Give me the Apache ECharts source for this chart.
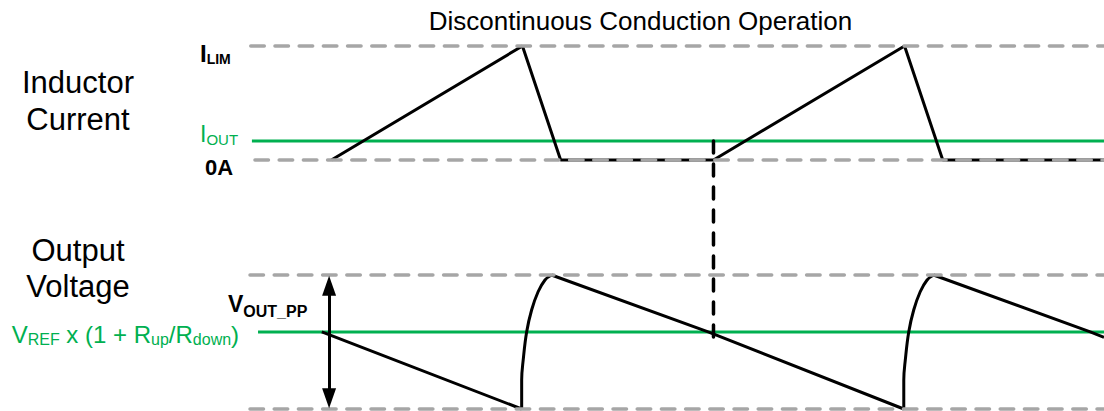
<!DOCTYPE html>
<html>
<head>
<meta charset="utf-8">
<script src="https://cdn.jsdelivr.net/npm/echarts@6/dist/echarts.min.js"></script>
<style>
html,body{margin:0;padding:0;background:#fff;}
#chart{width:1104px;height:411px;}
</style>
</head>
<body>
<div id="chart"></div>
<script>
// ---------------- data ----------------
// time axis in arbitrary units: one switching period = 10
const timeMin = -2.13;
const timeMax = 20.22;

// inductor current, normalised: 0 = 0A, 1 = I_LIM
const currentZero = 0;
const currentLimit = 1;
const currentOut = 0.167;
const inductorTime    = [0, 5, 6, 10, 15, 16, 20.22];
const inductorCurrent = [0, 1, 0, 0,  1,  0,  0];

// output voltage, normalised: 0 = valley, 1 = peak (V_OUT_PP span)
const voltageLow = 0;
const voltageHigh = 1;
const voltageRef = 0.575;
// straight discharge ramps (null = break)
const rampTime    = [-0.25, 4.98, null, 5.76, 9.86, 14.98, null, 15.76, 19.86, 20.22];
const rampVoltage = [0.575, 0,    null, 1,    0.575, 0,    null, 1,     0.575, 0.535];
// curved charging edges
const riseTime    = [4.98, 4.98, 5.02, 5.11, 5.24, 5.41, 5.59, 5.76, null,
                     14.98, 14.98, 15.02, 15.11, 15.24, 15.41, 15.59, 15.76];
const riseVoltage = [0, 0.216, 0.366, 0.575, 0.739, 0.875, 0.963, 1, null,
                     0, 0.216, 0.366, 0.575, 0.739, 0.875, 0.963, 1];

// reference-line start times
const limitStart = -2.11;
const zeroStart = -2.0;
const outStart = -2.08;
const vDashStart = -2.13;
const vRefStart = -1.92;

// V_OUT_PP double arrow
const arrowTime = -0.06;
const arrowSpan = [0.08, 0.92];

// vertical sync marker at start of 2nd period (drawn in voltage units)
const markerTime = 10;
const markerSpan = [2.0, 0.478];

// texts
const titleText = 'Discontinuous Conduction Operation';
const panelTitles = [['Inductor', 'Current'], ['Output', 'Voltage']];

// ---------------- chart ----------------
const GREEN = '#00B050';
const GRAY = '#A6A6A6';
const BLACK = '#000000';
const FONT = "'Liberation Sans', Arial, Helvetica, sans-serif";

function zip(a, b) { return a.map((v, i) => v === null ? [null, null] : [v, b[i]]); }
function hline(t0, t1, v) { return [[t0, v], [t1, v]]; }

const grayDash = { color: GRAY, width: 3.5, type: [13.5, 10.7], cap: 'round' };

function lineSeries(name, gi, data, lineStyle, z, extra) {
  return Object.assign({
    name: name, type: 'line', xAxisIndex: gi, yAxisIndex: gi,
    data: data, symbol: 'none', clip: false, silent: true,
    lineStyle: lineStyle, z: z, animation: false, connectNulls: false
  }, extra || {});
}

const series = [
  // current panel
  lineSeries('I_OUT', 0, hline(outStart, timeMax, currentOut), { color: GREEN, width: 3 }, 2),
  lineSeries('Inductor current', 0, zip(inductorTime, inductorCurrent), { color: BLACK, width: 3 }, 3),
  lineSeries('I_LIM', 0, hline(limitStart, timeMax, currentLimit), grayDash, 4),
  lineSeries('0A', 0, hline(zeroStart, timeMax, currentZero), grayDash, 4),
  // voltage panel
  lineSeries('V_REF', 1, hline(vRefStart, timeMax, voltageRef), { color: GREEN, width: 3 }, 2),
  lineSeries('Ramp', 1, zip(rampTime, rampVoltage), { color: BLACK, width: 3 }, 3),
  lineSeries('Rise', 1, zip(riseTime, riseVoltage), { color: BLACK, width: 3 }, 3, { smooth: 0.4 }),
  lineSeries('V high', 1, hline(vDashStart, timeMax, voltageHigh), grayDash, 4),
  lineSeries('V low', 1, hline(vDashStart, timeMax, voltageLow), grayDash, 4, {
    markLine: {
      silent: true, animation: false,
      symbol: ['triangle', 'triangle'], symbolSize: [14, 20],
      label: { show: false },
      lineStyle: { color: BLACK, width: 3, type: 'solid' },
      itemStyle: { color: BLACK },
      emphasis: { disabled: true },
      data: [[{ coord: [arrowTime, arrowSpan[0]] }, { coord: [arrowTime, arrowSpan[1]] }]]
    }
  }),
  lineSeries('Marker', 1, [[markerTime, markerSpan[0]], [markerTime, markerSpan[1]]],
    { color: BLACK, width: 3.5, type: [12, 11], cap: 'round' }, 5)
];

function txt(x, y, text, size, opts) {
  return {
    type: 'text', x: x, y: y, silent: true, z: 10,
    style: Object.assign({
      text: text, fontSize: size, fontFamily: FONT, fill: BLACK,
      align: 'center', verticalAlign: 'middle'
    }, opts || {})
  };
}

// main glyphs hang from the top of a line of height L, subscripts sit on its bottom
function richTxt(x, y, text, F, S, L, color, weight) {
  return {
    type: 'text', x: x, y: y + (L - F) / 2, silent: true, z: 10,
    style: {
      text: text, fontFamily: FONT, fill: color, fontWeight: weight,
      fontSize: F, align: 'left', verticalAlign: 'middle',
      rich: {
        m: { fontSize: F, fontFamily: FONT, fontWeight: weight, fill: color, lineHeight: L, verticalAlign: 'top' },
        s: { fontSize: S, fontFamily: FONT, fontWeight: weight, fill: color, lineHeight: S, verticalAlign: 'bottom' }
      }
    }
  };
}

const graphic = [
  txt(640.5, 21, titleText, 26),
  txt(78, 82, panelTitles[0][0], 31),
  txt(78, 119.2, panelTitles[0][1], 31),
  txt(78, 250.2, panelTitles[1][0], 31),
  txt(78, 286.9, panelTitles[1][1], 31),
  richTxt(200, 53.3, '{m|I}{s|LIM}', 24, 14, 24.6, BLACK, 'bold'),
  txt(205, 167.3, '0A', 22, { align: 'left', fontWeight: 'bold' }),
  richTxt(200, 133.6, '{m|I}{s|OUT}', 23, 15, 25.1, GREEN, 'normal'),
  richTxt(228, 303.6, '{m|V}{s|OUT_PP}', 23, 16, 26.9, BLACK, 'bold'),
  richTxt(11.7, 334.6, '{m|V}{s|REF}{m| x (1 + R}{s|up}{m|/R}{s|down}{m|)}', 24, 16, 25.2, GREEN, 'normal')
];

const option = {
  backgroundColor: '#ffffff',
  animation: false,
  grid: [
    { left: 250, right: 0, top: 46, height: 114, outerBoundsMode: 'none' },
    { left: 250, right: 0, top: 275, height: 134, outerBoundsMode: 'none' }
  ],
  xAxis: [
    { gridIndex: 0, type: 'value', min: timeMin, max: timeMax, show: false },
    { gridIndex: 1, type: 'value', min: timeMin, max: timeMax, show: false }
  ],
  yAxis: [
    { gridIndex: 0, type: 'value', min: currentZero, max: currentLimit, show: false },
    { gridIndex: 1, type: 'value', min: voltageLow, max: voltageHigh, show: false }
  ],
  tooltip: { show: false },
  series: series,
  graphic: graphic
};

const chart = echarts.init(document.getElementById('chart'), null, { renderer: 'svg' });
chart.setOption(option);
</script>
</body>
</html>
